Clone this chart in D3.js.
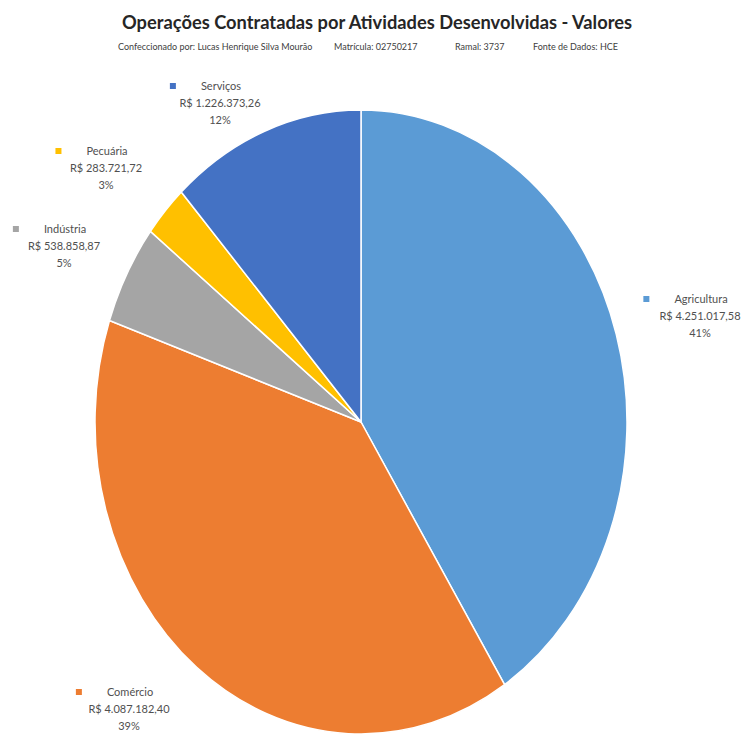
<!DOCTYPE html>
<html><head><meta charset="utf-8">
<script src="https://cdn.jsdelivr.net/npm/d3@7"></script>
<style>
body{margin:0;background:#fff;}
svg{display:block;}
text{font-family:Lato,"Open Sans",sans-serif;}
</style></head>
<body>
<svg id="chart" width="749" height="738"></svg>
<script>
// ---- data ----
const categories = ["Agricultura", "Comércio", "Indústria", "Pecuária", "Serviços"];
const values = [4251017.58, 4087182.40, 538858.87, 283721.72, 1226373.26];
const valueLabels = ["R$ 4.251.017,58", "R$ 4.087.182,40", "R$ 538.858,87", "R$ 283.721,72", "R$ 1.226.373,26"];
const percentLabels = ["41%", "39%", "5%", "3%", "12%"];
const titleText = "Operações Contratadas por Atividades Desenvolvidas - Valores";
const subtitleParts = ["Confeccionado por: Lucas Henrique Silva Mourão", "Matrícula: 02750217", "Ramal: 3737", "Fonte de Dados: HCE"];

// ---- layout / style ----
const colors = ["#5B9BD5", "#ED7D31", "#A5A5A5", "#FFC000", "#4472C4"];
const cx = 361, cy = 422, rx = 266, ry = 312;
// label anchors (center of text block, first-line y)
const labelLayout = [
  {x: 700, y: 303},
  {x: 129, y: 696},
  {x: 64,  y: 233},
  {x: 106, y: 155},
  {x: 220, y: 90}
];
const subtitleX = [118, 334, 455, 533];

const svg = d3.select("#chart");

svg.append("text")
  .attr("x", 377).attr("y", 29)
  .attr("text-anchor", "middle")
  .attr("font-size", 19).attr("font-weight", "bold")
  .attr("fill", "#262626")
  .attr("textLength", 510).attr("lengthAdjust", "spacingAndGlyphs")
  .text(titleText);

svg.selectAll("text.sub").data(subtitleParts).enter().append("text")
  .attr("class", "sub")
  .attr("x", (d, i) => subtitleX[i]).attr("y", 50)
  .attr("font-size", 9).attr("fill", "#404040")
  .text(d => d);

const data = categories.map((c, i) => ({cat: c, value: values[i], i}));
const pie = d3.pie().sort(null).value(d => d.value).startAngle(0).endAngle(2 * Math.PI);
const arc = d3.arc().innerRadius(0).outerRadius(ry);

const g = svg.append("g").attr("transform", `translate(${cx},${cy}) scale(${rx / ry},1)`);
g.selectAll("path").data(pie(data)).enter().append("path")
  .attr("d", arc)
  .attr("fill", d => colors[d.data.i])
  .attr("stroke", "#fff")
  .attr("stroke-width", 1.5)
  .attr("vector-effect", "non-scaling-stroke");

const lab = svg.selectAll("g.lab").data(data).enter().append("g").attr("class", "lab")
  .attr("transform", d => `translate(${labelLayout[d.i].x},${labelLayout[d.i].y})`);

lab.append("text").attr("text-anchor", "middle").attr("font-size", 11).attr("fill", "#505050")
  .attr("x", 1).attr("y", 0).text(d => d.cat);
lab.each(function(d) {
  const t = d3.select(this).select("text").node();
  const w = t.getComputedTextLength();
  d3.select(this).insert("rect", "text")
    .attr("x", 1 - w / 2 - 31).attr("y", -7)
    .attr("width", 6).attr("height", 6)
    .attr("fill", colors[d.i]);
});
lab.append("text").attr("text-anchor", "middle").attr("font-size", 11).attr("fill", "#505050")
  .attr("y", 17).text(d => valueLabels[d.i]);
lab.append("text").attr("text-anchor", "middle").attr("font-size", 11).attr("fill", "#505050")
  .attr("y", 34).text(d => percentLabels[d.i]);
</script>
</body></html>
